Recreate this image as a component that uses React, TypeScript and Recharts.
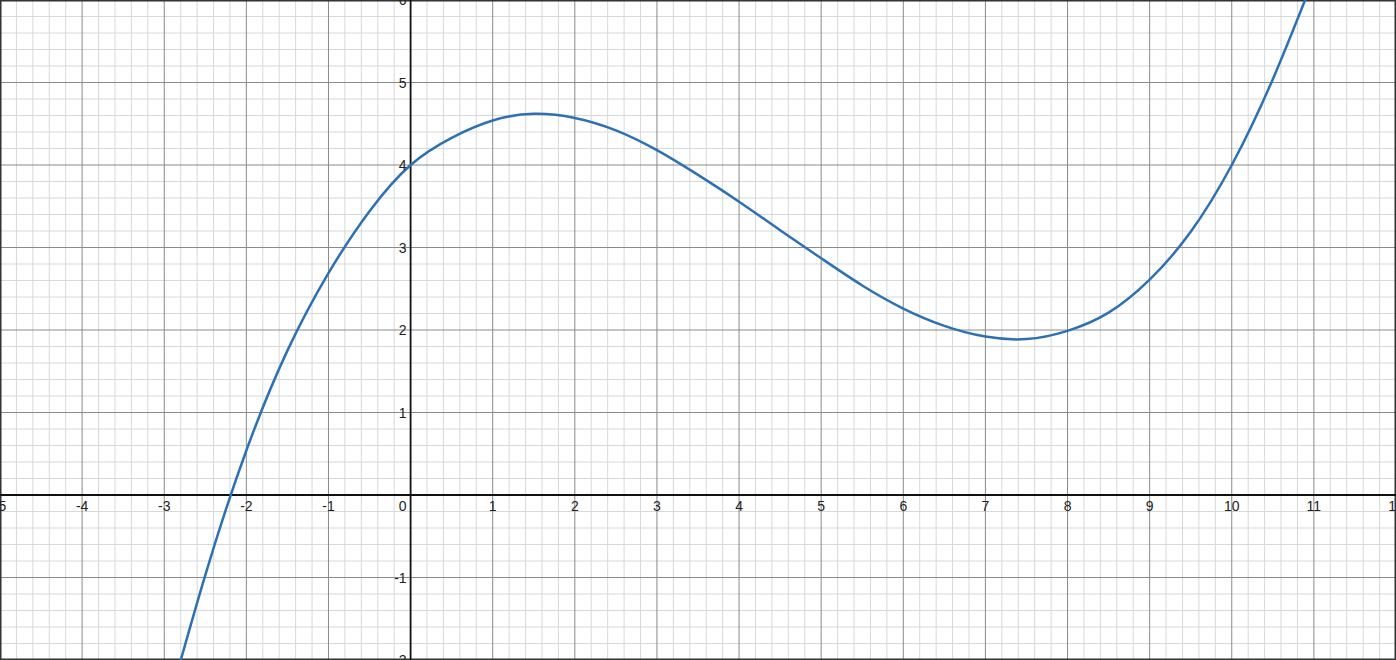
import React from "react";
import { LineChart, Line, XAxis, YAxis, ReferenceLine, ReferenceDot } from "recharts";

const xPoints = [-3.0, -2.5, -2.0, -1.5, -1.0, -0.5, 0, 0.5, 1.0, 1.5, 2.0, 2.5, 3.0, 3.5, 4.0, 4.5, 5.0, 5.5, 6.0, 6.5, 7.0, 7.5, 8.0, 8.5, 9.0, 9.5, 10.0, 10.5, 11.0];
const yPoints = [-2.72, -0.97, 0.54, 1.75, 2.69, 3.44, 4.0, 4.33, 4.54, 4.62, 4.57, 4.42, 4.18, 3.88, 3.555, 3.21, 2.87, 2.54, 2.26, 2.05, 1.92, 1.89, 1.99, 2.21, 2.61, 3.19, 4.0, 5.04, 6.27];

const xMajor = [-5, -4, -3, -2, -1, 0, 1, 2, 3, 4, 5, 6, 7, 8, 9, 10, 11, 12];
const yMajor = [-2, -1, 0, 1, 2, 3, 4, 5, 6];
const xLabels = ["-5", "-4", "-3", "-2", "-1", "0", "1", "2", "3", "4", "5", "6", "7", "8", "9", "10", "11", "12"];
const yLabels = ["-2", "-1", "0", "1", "2", "3", "4", "5", "6"];
const minorStep = 0.2;

const data = xPoints.map((x, i) => ({ x, y: yPoints[i] }));

const minorX: number[] = [];
for (let k = 0; k <= (12 - -5) / minorStep; k++) {
  const v = +(-5 + k * minorStep).toFixed(2);
  if (Math.abs(v - Math.round(v)) > 1e-6) minorX.push(v);
}
const minorY: number[] = [];
for (let k = 0; k <= (6 - -2) / minorStep; k++) {
  const v = +(-2 + k * minorStep).toFixed(2);
  if (Math.abs(v - Math.round(v)) > 1e-6) minorY.push(v);
}

const FONT = "'Liberation Sans', Arial, sans-serif";

const XLabel = (text: string, isZero: boolean) => (props: any) => {
  const vb = props.viewBox || {};
  const x = vb.x + (vb.width || 0) / 2;
  const y = vb.y + (vb.height || 0) / 2;
  return (
    <text
      x={isZero ? x - 4 : x}
      y={y + 16}
      textAnchor={isZero ? "end" : "middle"}
      fontSize={14}
      fontFamily={FONT}
      fill="#222"
    >
      {text}
    </text>
  );
};

const YLabel = (text: string) => (props: any) => {
  const vb = props.viewBox || {};
  const x = vb.x + (vb.width || 0) / 2;
  const y = vb.y + (vb.height || 0) / 2;
  return (
    <text
      x={x - 4}
      y={y + 5}
      textAnchor="end"
      fontSize={14}
      fontFamily={FONT}
      fill="#222"
    >
      {text}
    </text>
  );
};

export default function App() {
  return (
    <div style={{ position: "absolute", left: 0, top: 0, width: 1396, height: 660, background: "#fff" }}>
      <LineChart width={1396} height={660} data={data} margin={{ top: 0, right: 0, bottom: 0, left: 0 }}>
        <XAxis dataKey="x" type="number" domain={[-5, 12]} allowDataOverflow hide />
        <YAxis type="number" domain={[-2, 6]} allowDataOverflow hide />
        {minorX.map((v) => (
          <ReferenceLine key={"mx" + v} x={v} stroke="#d8d8d8" strokeWidth={1} />
        ))}
        {minorY.map((v) => (
          <ReferenceLine key={"my" + v} y={v} stroke="#d8d8d8" strokeWidth={1} />
        ))}
        {xMajor.map((v) => (
          <ReferenceLine key={"Mx" + v} x={v} stroke="#8a8a8a" strokeWidth={1} />
        ))}
        {yMajor.map((v) => (
          <ReferenceLine key={"My" + v} y={v} stroke="#8a8a8a" strokeWidth={1} />
        ))}
        <ReferenceLine x={-5} stroke="#333" strokeWidth={3} />
        <ReferenceLine x={12} stroke="#333" strokeWidth={3} />
        <ReferenceLine y={-2} stroke="#333" strokeWidth={3} />
        <ReferenceLine y={6} stroke="#333" strokeWidth={3} />
        <ReferenceLine x={0} stroke="#111" strokeWidth={1.8} />
        <ReferenceLine y={0} stroke="#111" strokeWidth={1.8} />
        <Line
          dataKey="y"
          type="natural"
          stroke="#2d70b3"
          strokeWidth={2.5}
          dot={false}
          activeDot={false}
          isAnimationActive={false}
        />
        {xMajor.map((v, i) => (
          <ReferenceDot
            key={"xl" + v}
            x={v}
            y={0}
            r={0}
            fill="none"
            stroke="none"
            ifOverflow="visible"
            label={{ content: XLabel(xLabels[i], v === 0) }}
          />
        ))}
        {yMajor.map((v, i) =>
          v === 0 ? null : (
            <ReferenceDot
              key={"yl" + v}
              x={0}
              y={v}
              r={0}
              fill="none"
              stroke="none"
              ifOverflow="visible"
              label={{ content: YLabel(yLabels[i]) }}
            />
          )
        )}
      </LineChart>
    </div>
  );
}
